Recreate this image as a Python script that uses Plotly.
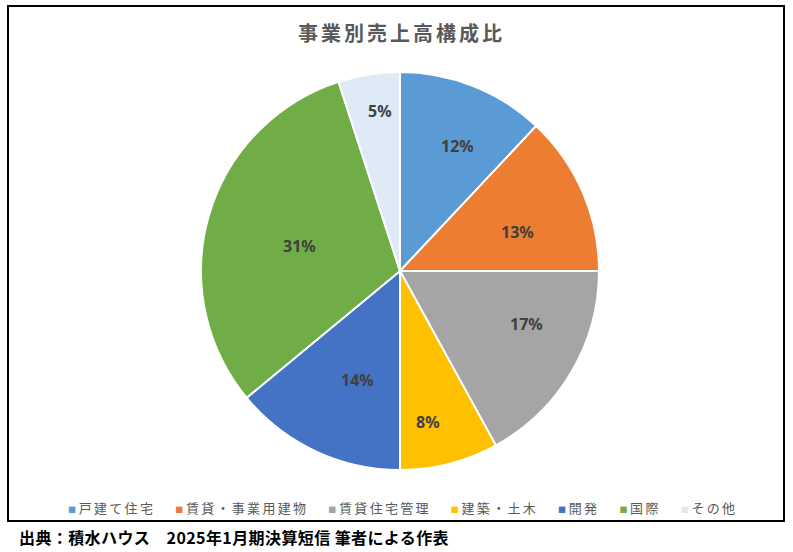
import math
import plotly.graph_objects as go

# 事業別売上高構成比 (%)
segments = ["戸建て住宅", "賃貸・事業用建物", "賃貸住宅管理", "建築・土木", "開発", "国際", "その他"]
shares = [12, 13, 17, 8, 14, 31, 5]
colors = ["#5B9BD5", "#ED7D31", "#A5A5A5", "#FFC000", "#4472C4", "#70AD47", "#DEEBF7"]

title_text = "事業別売上高構成比"
source_text = "出典：積水ハウス　2025年1月期決算短信 筆者による作表"

W, H = 793, 552
cx, cy, r = 400, 271, 199  # pie centre and radius in pixels

# data-label placement: fraction of radius and angular nudge (degrees) per slice
label_rfrac = [0.69, 0.62, 0.69, 0.77, 0.59, 0.52, 0.81]
label_nudge = [3, 5, -8, 4, -4, -2, 2]

fig = go.Figure(
    go.Pie(
        labels=segments,
        values=shares,
        sort=False,
        direction="clockwise",
        rotation=0,
        marker=dict(colors=colors, line=dict(color="white", width=2)),
        textinfo="none",
        domain=dict(
            x=[(cx - r) / W, (cx + r) / W],
            y=[(H - (cy + r)) / H, (H - (cy - r)) / H],
        ),
        showlegend=False,
        hoverinfo="label+percent",
    )
)

# percentage labels, positioned from each slice's mid-angle
total = sum(shares)
cum = 0
for v, rf, nudge in zip(shares, label_rfrac, label_nudge):
    mid = (cum + v / 2) / total * 360 + nudge
    cum += v
    a = math.radians(mid)
    px = cx + rf * r * math.sin(a)
    py = cy - rf * r * math.cos(a)
    fig.add_annotation(
        text=f"{round(v / total * 100)}%", xref="paper", yref="paper",
        x=px / W, y=(H - py) / H, xanchor="center", yanchor="middle",
        showarrow=False,
        font=dict(family="Noto Sans", size=16, color="#404040", weight="bold"),
    )

# chart frame
fig.add_shape(
    type="rect", xref="paper", yref="paper",
    x0=8 / W, x1=784 / W, y0=(H - 521) / H, y1=(H - 6) / H,
    line=dict(color="#000000", width=2), fillcolor="rgba(0,0,0,0)",
)

# title
fig.add_annotation(
    text=f'<span style="letter-spacing:3px">{title_text}</span>',
    xref="paper", yref="paper",
    x=401 / W, y=(H - 32) / H, xanchor="center", yanchor="middle",
    showarrow=False,
    font=dict(family="Noto Sans CJK JP", size=20, color="#595959", weight="bold"),
)

# legend row: small coloured squares followed by the segment names
items = []
for name, c in zip(segments, colors):
    items.append(
        f'<span style="color:{c};font-size:8px">■</span>'
        f'<span style="font-size:12px"> </span>'
        f'<span style="letter-spacing:2.3px">{name}</span>'
    )
legend_text = "<span style='font-size:20px'>\u2003</span>".join(items)
fig.add_annotation(
    text=legend_text, xref="paper", yref="paper",
    x=402 / W, y=(H - 504) / H, xanchor="center", yanchor="middle",
    showarrow=False,
    font=dict(family="Noto Sans CJK JP", size=13, color="#595959"),
)

# source note under the frame
fig.add_annotation(
    text=f'<span style="letter-spacing:0.4px">{source_text}</span>',
    xref="paper", yref="paper",
    x=17 / W, y=(H - 537) / H, xanchor="left", yanchor="middle",
    showarrow=False,
    font=dict(family="Noto Sans CJK JP", size=16, color="#000000", weight="bold"),
)

fig.update_layout(
    width=W, height=H,
    margin=dict(l=0, r=0, t=0, b=0),
    paper_bgcolor="white",
    plot_bgcolor="white",
)

fig.write_html("out.html")
